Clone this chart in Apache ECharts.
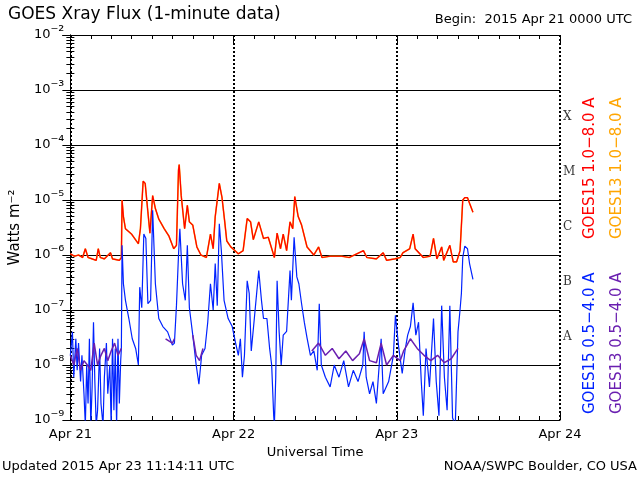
<!DOCTYPE html>
<html>
<head>
<meta charset="utf-8">
<script src="https://cdn.jsdelivr.net/npm/echarts@6/dist/echarts.min.js"></script>
<style>html,body{margin:0;background:#fff}#main{width:640px;height:480px}</style>
</head>
<body>
<div id="main"></div>
<script>
// hours since 2015 Apr 21 00:00 UTC
var longHours = [0,0.6,1.2,1.8,2.2,2.6,3.2,3.8,4.1,4.4,5,5.9,6.2,7.2,7.5,7.6,7.8,8.1,9,10,10.3,10.7,11,11.4,11.7,12.1,12.5,13,13.8,14.5,15.2,15.6,15.9,16,16.3,16.8,17.2,17.5,18,18.6,19.2,20,20.6,21,21.3,21.9,22.3,22.7,23,23.6,24.2,24.7,25.4,26,26.5,26.9,27.7,28.4,29.1,29.7,30,30.4,30.9,31.3,31.8,32.3,32.7,33,33.5,34,34.8,35.8,36.5,37,38.2,39.9,41,43.1,43.6,45,46,46.5,47.7,48.5,48.9,49.9,50.4,50.7,51.9,52.9,53.4,53.9,54.6,54.9,55.8,56.3,56.8,57.3,57.4,57.7,58,58.4,58.7,59.2];
var longFlux = [1.05e-6,9.5e-7,1.0e-6,9e-7,1.3e-6,9e-7,8.5e-7,8e-7,1.3e-6,9e-7,8.5e-7,1.1e-6,8.5e-7,8e-7,9e-7,1e-5,5e-6,3e-6,2.4e-6,1.6e-6,3e-6,2.2e-5,2e-5,6e-6,2.5e-6,1.2e-5,7e-6,4.5e-6,3e-6,2.2e-6,1.3e-6,1.5e-6,3.5e-5,4.4e-5,1.2e-5,3e-6,8e-6,4e-6,3.5e-6,1.4e-6,1e-6,9e-7,2.4e-6,1.3e-6,5e-6,2e-5,1.1e-5,4e-6,1.8e-6,1.4e-6,1.2e-6,1.05e-6,1.2e-6,4.6e-6,4e-6,1.9e-6,4e-6,2e-6,2.1e-6,1.2e-6,9e-7,2.5e-6,1.3e-6,2.4e-6,1.2e-6,4e-6,3e-6,1.15e-5,5e-6,3.5e-6,1.4e-6,1e-6,1.4e-6,9e-7,9.5e-7,9.5e-7,9e-7,1.2e-6,9e-7,8.5e-7,1.1e-6,8e-7,8.5e-7,9e-7,1.1e-6,1.3e-6,2.4e-6,1.3e-6,9e-7,9.5e-7,2e-6,8.5e-7,1.4e-6,8e-7,1.5e-6,7.5e-7,7.5e-7,1.2e-6,2e-6,1e-5,1.1e-5,1.1e-5,8.7e-6,6e-6];

var shortHours = [0,0.3,0.5,0.8,1.0,1.2,1.5,1.7,2.0,2.2,2.4,2.6,2.8,3.0,3.2,3.4,3.6,3.8,4.0,4.3,4.5,4.8,5.0,5.3,5.5,5.8,6.0,6.2,6.4,6.6,6.8,7.0,7.2,7.4,7.5,7.6,7.8,8.1,8.6,9.1,9.6,10.0,10.2,10.5,10.8,11.1,11.4,11.8,12.1,12.5,13.0,13.6,14.3,15.0,15.3,15.6,15.9,16.1,16.5,16.9,17.2,17.5,18.0,18.5,18.9,19.3,19.8,20.2,20.6,21.0,21.3,21.6,21.9,22.2,22.6,23.2,23.8,24.3,24.7,25.0,25.3,25.6,26.0,26.3,26.6,27.0,27.7,28.1,28.4,28.9,29.3,29.6,29.9,30.0,30.2,30.4,30.7,31.0,31.3,31.8,32.3,32.5,32.9,33.3,33.6,34.0,34.4,34.8,35.3,35.8,36.3,36.6,36.9,37.5,38.2,38.8,39.5,40.2,40.9,41.6,42.3,43.0,43.2,43.5,44.0,44.5,45.0,45.7,46.0,46.8,47.5,47.8,48.3,48.8,49.2,49.6,50.0,50.4,50.8,51.2,51.6,51.9,52.3,52.8,53.4,53.8,54.2,54.6,55.0,55.4,55.8,56.2,56.6,57.0,57.3,57.5,57.7,58.0,58.4,58.7,59.2];
var shortFlux = [1.5e-8,4e-8,6e-9,3e-8,8e-9,2.5e-8,5e-9,1.5e-8,3e-9,8e-10,1e-8,2e-9,3e-8,8e-10,4e-9,6e-8,5e-9,8e-10,1.5e-9,2e-8,2e-9,8e-10,6e-9,2.5e-8,3e-9,1e-8,8e-10,3e-8,1.5e-9,2e-8,8e-10,3e-8,2e-9,1.2e-8,2e-8,1.5e-6,3e-7,1.5e-7,7e-8,3e-8,2e-8,1e-8,2.6e-7,1.1e-7,2.4e-6,2e-6,1.3e-7,1.5e-7,6.5e-6,3e-7,7e-8,5e-8,4e-8,2.3e-8,2.5e-8,1.2e-7,1e-6,3e-6,3e-7,1.5e-7,1.5e-6,1.1e-7,3.5e-8,1e-8,4.5e-9,1.5e-8,2e-8,6e-8,3e-7,1e-7,7e-7,1.2e-7,3.7e-6,1.2e-6,1.5e-7,7e-8,5e-8,2.5e-8,1.5e-8,3e-8,6e-9,1.5e-8,3.4e-7,2e-7,1.8e-8,6e-8,5.2e-7,1.5e-7,7e-8,7e-8,2e-8,1e-8,1.2e-9,8e-10,6e-9,3.4e-7,4e-8,1e-8,3.5e-8,4.1e-8,5.2e-7,1.5e-7,2.1e-6,4e-7,3e-7,1.3e-7,6e-8,3.1e-8,1.5e-8,1.8e-8,8e-9,1.3e-7,1e-8,6e-9,4e-9,1e-8,6e-9,1.2e-8,4e-9,8e-9,5e-9,1e-8,4e-8,6e-9,3e-9,5e-9,2e-9,3e-8,3e-9,5e-9,1.5e-8,8e-8,2e-8,7e-9,1.8e-8,3.5e-8,5e-8,1.35e-7,3.5e-8,6e-8,5e-9,1.2e-9,2e-8,4e-9,7e-8,5e-9,1.2e-9,1.2e-7,6e-9,1.5e-9,1.2e-7,1.1e-9,8e-10,4e-8,1e-7,2e-7,9e-7,1.45e-6,1.3e-6,7e-7,3.6e-7];

// GOES13 short channel, '-' = gap (hidden under GOES15)
var g13Hours = [0,0.5,1,1.5,2,2.5,3,3.5,4,4.5,5,5.5,6,6.5,7,7.5,7.6,14,15,15.3,15.4,18,18.5,19,19.5,19.6,35.5,36.5,37.5,38.5,39.5,40.5,41.5,42.5,43.2,44,45,45.7,46.5,47.5,48.5,49,49.5,50,51,52,53,54,55,56,57];
var g13Flux = [1.5e-8,1e-8,2e-8,8e-9,1.2e-8,1e-8,8e-9,2.5e-8,1e-8,1.5e-8,2e-8,1.2e-8,1.8e-8,2.5e-8,1.5e-8,2e-8,'-',3e-8,2.5e-8,3e-8,'-',3.5e-8,1.5e-8,1.2e-8,2e-8,'-',1.8e-8,2.5e-8,1.5e-8,2e-8,1.3e-8,1.8e-8,1.2e-8,1.6e-8,3e-8,1.2e-8,1.1e-8,2.5e-8,1e-8,1.5e-8,1.2e-8,1.8e-8,2.3e-8,3e-8,2e-8,1.5e-8,1.2e-8,1.5e-8,1.1e-8,1.3e-8,2e-8];

var dayLabels = ['Apr 21', 'Apr 22', 'Apr 23', 'Apr 24'];
var classLabels = [['X', 3.2e-4], ['M', 3.2e-5], ['C', 3.2e-6], ['B', 3.2e-7], ['A', 3.2e-8]];

function pairs(h, v) { return h.map(function (x, i) { return [x, v[i]]; }); }
var sup = {'-': '\u207B', '0': '\u2070', '1': '\u00B9', '2': '\u00B2', '3': '\u00B3', '4': '\u2074', '5': '\u2075', '6': '\u2076', '7': '\u2077', '8': '\u2078', '9': '\u2079'};

var myChart = echarts.init(document.getElementById('main'));
var font = 'DejaVu Sans';

var option = {
    backgroundColor: '#fff',
    animation: false,
    textStyle: { fontFamily: font, color: '#000' },
    grid: { left: 70, right: 80, top: 35, bottom: 60 },
    xAxis: [{
        type: 'value', min: 0, max: 72, interval: 24,
        axisLine: { lineStyle: { color: '#000' } },
        axisTick: { inside: true, length: 8, lineStyle: { color: '#000' } },
        minorTick: { show: true, splitNumber: 8, length: 4, lineStyle: { color: '#000' } },
        axisLabel: { color: '#000', fontSize: 13, margin: 8, formatter: function (v) { return dayLabels[v / 24]; } },
        splitLine: { show: true, lineStyle: { color: '#000', type: [2, 2], width: 2 } },
        name: 'Universal Time', nameLocation: 'middle', nameGap: 22, nameTextStyle: { fontSize: 13, color: '#000' }
    }, {
        type: 'value', min: 0, max: 72, interval: 24, position: 'top',
        axisLine: { lineStyle: { color: '#000' } },
        axisTick: { inside: true, length: 8, lineStyle: { color: '#000' } },
        minorTick: { show: true, splitNumber: 8, length: 4, lineStyle: { color: '#000' } },
        axisLabel: { show: false }, splitLine: { show: false }
    }],
    yAxis: [{
        type: 'log', min: 1e-9, max: 1e-2, logBase: 10,
        axisLine: { lineStyle: { color: '#000' } },
        axisTick: { inside: true, length: 8, lineStyle: { color: '#000' } },
        minorTick: { show: true, splitNumber: 9, length: 4, lineStyle: { color: '#000' } },
        splitLine: { show: true, lineStyle: { color: '#000', width: 1.2 } },
        axisLabel: {
            color: '#000', margin: 6,
            formatter: function (v) {
                var e = Math.round(Math.log10(v));
                return '{b|10}{s|' + String(e).split('').map(function (c) { return sup[c]; }).join('') + '}';
            },
            rich: { b: { fontSize: 13, fontFamily: font }, s: { fontSize: 15, fontFamily: font, verticalAlign: 'top', padding: [0, 0, 6, 0] } }
        },
        name: 'Watts m\u207B\u00B2', nameLocation: 'middle', nameGap: 46, nameRotate: 90,
        nameTextStyle: { fontSize: 15, color: '#000' }
    }, {
        type: 'log', min: 1e-9, max: 1e-2, logBase: 10, position: 'right',
        axisLine: { lineStyle: { color: '#000' } },
        axisTick: { inside: true, length: 8, lineStyle: { color: '#000' } },
        minorTick: { show: true, splitNumber: 9, length: 4, lineStyle: { color: '#000' } },
        axisLabel: { show: false }, splitLine: { show: false }
    }],
    series: [
        { name: 'GOES13 1.0-8.0 A', type: 'line', data: pairs(longHours, longFlux), showSymbol: false,
          lineStyle: { color: '#ffa500', width: 1.6 }, clip: true },
        { name: 'GOES15 1.0-8.0 A', type: 'line', data: pairs(longHours, longFlux), showSymbol: false,
          lineStyle: { color: '#ff0000', width: 1.2 }, clip: true },
        { name: 'GOES15 0.5-4.0 A', type: 'line', data: pairs(shortHours, shortFlux), showSymbol: false,
          lineStyle: { color: '#0022ff', width: 1.2 }, clip: true },
        { name: 'GOES13 0.5-4.0 A', type: 'line', data: pairs(g13Hours, g13Flux), showSymbol: false,
          connectNulls: false, lineStyle: { color: '#6a1fb0', width: 1.5 }, clip: true },
        { type: 'scatter', yAxisIndex: 1, symbolSize: 0, silent: true,
          data: classLabels.map(function (c) { return { value: [72, c[1]], name: c[0] }; }),
          label: { show: true, position: 'right', offset: [-2, 0], formatter: '{b}',
                   fontFamily: 'DejaVu Serif', fontSize: 12, color: '#000' } }
    ],
    graphic: [
        { type: 'text', left: 8, top: 6, style: { text: 'GOES Xray Flux (1-minute data)', font: '17px "DejaVu Sans"', fill: '#000' } },
        { type: 'text', right: 8, top: 13, style: { text: 'Begin:  2015 Apr 21 0000 UTC', font: '13px "DejaVu Sans"', fill: '#000' } },
        { type: 'text', left: 2, top: 460, style: { text: 'Updated 2015 Apr 23 11:14:11 UTC', font: '13px "DejaVu Sans"', fill: '#000' } },
        { type: 'text', right: 3, top: 460, style: { text: 'NOAA/SWPC Boulder, CO USA', font: '13px "DejaVu Sans"', fill: '#000' } },
        { type: 'text', x: 583, y: 239, rotation: Math.PI / 2, style: { text: 'GOES15 1.0\u22128.0 A', font: '15px "DejaVu Sans"', fill: '#ff0000', align: 'left', verticalAlign: 'top' } },
        { type: 'text', x: 610, y: 239, rotation: Math.PI / 2, style: { text: 'GOES13 1.0\u22128.0 A', font: '15px "DejaVu Sans"', fill: '#ffa500', align: 'left', verticalAlign: 'top' } },
        { type: 'text', x: 583, y: 414, rotation: Math.PI / 2, style: { text: 'GOES15 0.5\u22124.0 A', font: '15px "DejaVu Sans"', fill: '#0022ff', align: 'left', verticalAlign: 'top' } },
        { type: 'text', x: 610, y: 414, rotation: Math.PI / 2, style: { text: 'GOES13 0.5\u22124.0 A', font: '15px "DejaVu Sans"', fill: '#6a1fb0', align: 'left', verticalAlign: 'top' } }
    ]
};
myChart.setOption(option);
</script>
</body>
</html>
